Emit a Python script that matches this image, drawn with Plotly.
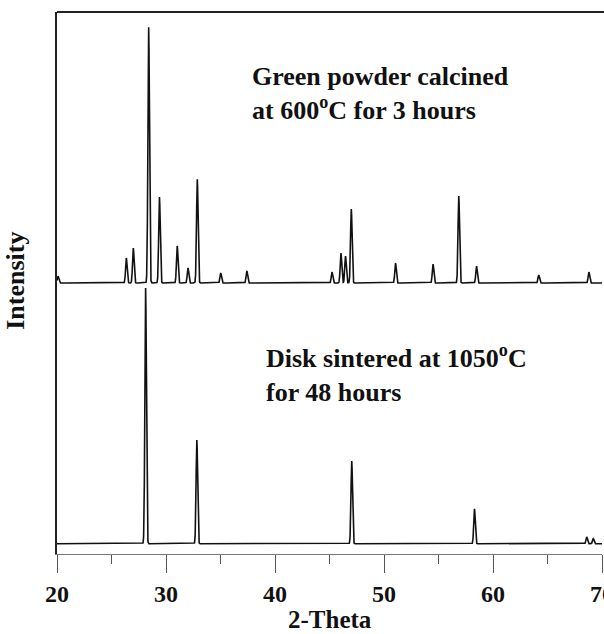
import numpy as np
import plotly.graph_objects as go

# Peak lists (2-theta in degrees, relative intensity in %)
calcined_pos = [20.1, 26.36, 27.0, 28.41, 29.40, 31.03, 32.02, 32.87, 35.02, 37.42,
                45.23, 46.05, 46.47, 47.0, 51.06, 54.5, 56.86, 58.49, 64.2, 68.8]
calcined_int = [2.7, 9.8, 13.7, 100, 33.6, 14.5, 5.9, 40.6, 3.9, 4.7,
                4.3, 11.7, 10.5, 28.9, 7.8, 7.4, 34.0, 6.6, 3.1, 4.3]

sintered_pos = [28.13, 32.83, 47.04, 58.3, 68.6, 69.2]
sintered_int = [100, 40.6, 32.4, 13.7, 2.7, 2.0]

x_ticks = [20, 30, 40, 50, 60, 70]

# Vertical offsets used to stack the two patterns
calcined_offset = 106
sintered_offset = 4
peak_sigma = 0.07

two_theta = np.arange(20.0, 70.001, 0.01)


def profile(positions, intensities):
    y = np.zeros_like(two_theta)
    for p, h in zip(positions, intensities):
        y += h * np.exp(-0.5 * ((two_theta - p) / peak_sigma) ** 2)
    return y


line_style = dict(color="#111111", width=1.6)
fig = go.Figure()
fig.add_trace(go.Scatter(x=two_theta, y=profile(calcined_pos, calcined_int) + calcined_offset,
                         mode="lines", line=line_style, hoverinfo="skip"))
fig.add_trace(go.Scatter(x=two_theta, y=profile(sintered_pos, sintered_int) + sintered_offset,
                         mode="lines", line=line_style, hoverinfo="skip"))

serif = "Liberation Serif"

fig.update_layout(
    width=604, height=634,
    margin=dict(l=57, r=2, t=12, b=80, autoexpand=False),
    paper_bgcolor="white", plot_bgcolor="white",
    showlegend=False,
    xaxis=dict(
        range=[20, 70], tickvals=x_ticks, ticktext=[f"<b>{v}</b>" for v in x_ticks],
        automargin=False,
        showgrid=False, zeroline=False,
        showline=True, linecolor="#777777", linewidth=1,
        ticks="outside", ticklen=18, tickwidth=1, tickcolor="#555555",
        minor=dict(dtick=5, tick0=20, ticks="outside", ticklen=9, tickwidth=1, tickcolor="#555555"),
        tickfont=dict(family=serif, size=24, color="#111111"),
        ticklabelstandoff=0,
        ticklabeloverflow="allow",
    ),
    yaxis=dict(
        range=[0, 212], showgrid=False, zeroline=False, automargin=False,
        showline=True, linecolor="#222222", linewidth=2,
        showticklabels=False, ticks="",
    ),
    shapes=[dict(type="line", xref="paper", yref="paper", x0=0, x1=1.01, y0=1, y1=1,
                 line=dict(color="#222222", width=2))],
    annotations=[
        dict(text="<b>Green powder calcined<br>at 600<sup>o</sup>C for 3 hours</b>",
             x=37.7, y=180.3, xref="x", yref="y", xanchor="left", yanchor="middle",
             align="left", showarrow=False,
             font=dict(family=serif, size=26, color="#111111")),
        dict(text="<b>Disk sintered at 1050<sup>o</sup>C<br>for 48 hours</b>",
             x=39.0, y=70.5, xref="x", yref="y", xanchor="left", yanchor="middle",
             align="left", showarrow=False,
             font=dict(family=serif, size=26, color="#111111")),
        dict(text="<b>Intensity</b>", textangle=-90,
             x=-0.0765, y=107, xref="paper", yref="y", xanchor="center", yanchor="middle",
             showarrow=False, font=dict(family=serif, size=26, color="#111111")),
        dict(text="<b>2-Theta</b>",
             x=0.5, y=-0.121, xref="paper", yref="paper", xanchor="center", yanchor="middle",
             showarrow=False, font=dict(family=serif, size=25, color="#111111")),
    ],
)

fig.write_html("out.html")
